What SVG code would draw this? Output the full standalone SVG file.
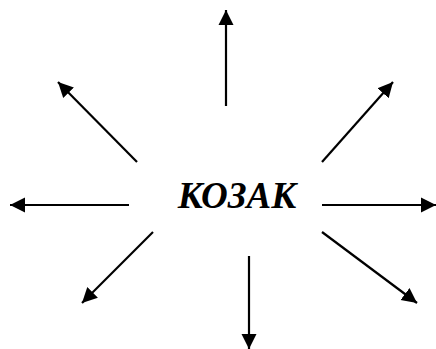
<svg xmlns="http://www.w3.org/2000/svg" width="436" height="349" viewBox="0 0 436 349">
<style>
.c line{stroke:#000;stroke-width:2.2;marker-end:url(#ah);}
.t{font-family:"Liberation Serif","Times New Roman",serif;font-weight:bold;font-style:italic;font-size:37px;fill:#000;}
</style>
<defs>
<marker id="ah" markerUnits="userSpaceOnUse" markerWidth="16" markerHeight="16" refX="15" refY="8" orient="auto">
<path d="M0,0.5 L15,8 L0,15.5 Z" fill="#000"/>
</marker>
</defs>
<rect width="436" height="349" fill="#fff"/>
<g id="node-kozak">
<text class="t" x="237" y="208" text-anchor="middle">КОЗАК</text>
</g>
<g id="connectors" class="c">
<line x1="226" y1="106" x2="226" y2="10"/>
<line x1="137" y1="162" x2="58" y2="82"/>
<line x1="322" y1="162" x2="393" y2="82"/>
<line x1="129" y1="205" x2="10" y2="205"/>
<line x1="322" y1="205" x2="436" y2="205"/>
<line x1="153" y1="232" x2="82" y2="303"/>
<line x1="249" y1="256" x2="249" y2="349"/>
<line x1="322" y1="232" x2="417" y2="303"/>
</g>
</svg>
